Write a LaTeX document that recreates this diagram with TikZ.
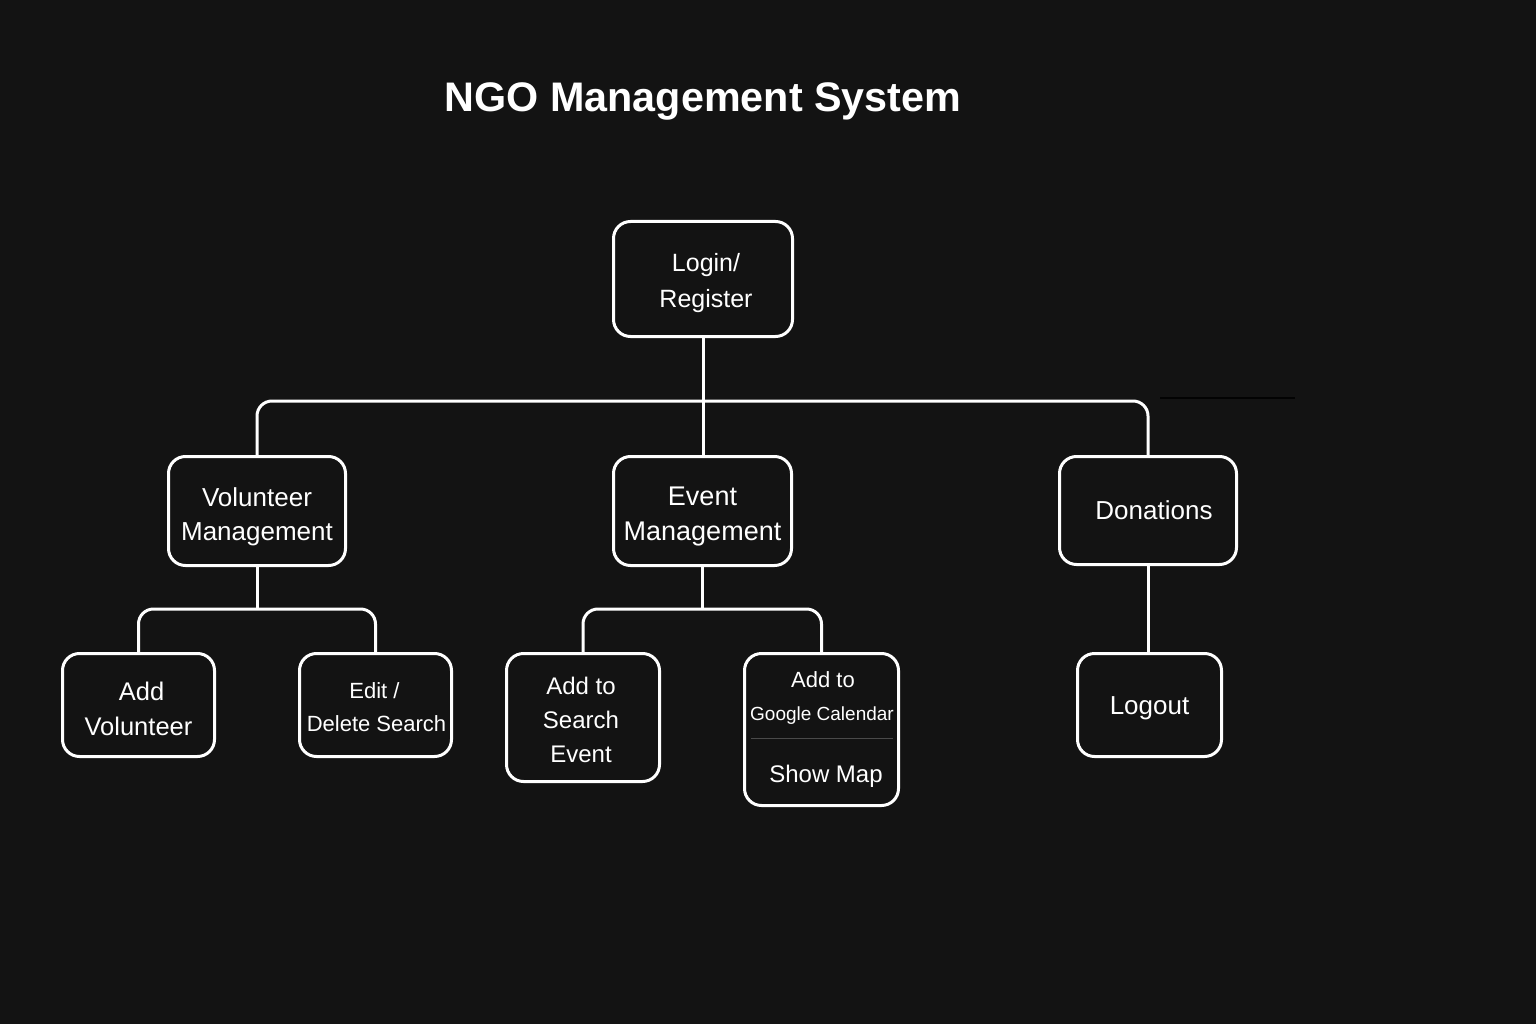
\documentclass[tikz,border=0pt]{standalone}
\usepackage{fontspec}
\setmainfont{Liberation Sans}
\definecolor{bg}{HTML}{131313}
\definecolor{sepgray}{HTML}{4A4A4A}
\begin{document}
\begin{tikzpicture}[x=1pt,y=-1pt,
  box/.style={draw=white, line width=3pt, rounded corners=17pt, fill=bg, inner sep=0pt},
  txt/.style={text=white, align=center, inner sep=0pt},
  link/.style={draw=white, line width=3pt, rounded corners=15pt},
  lbl/.style={text=white, inner sep=0pt, anchor=base},
  fs/.style={font=\fontsize{#1}{#1}\selectfont}]
\fill[bg] (0,0) rectangle (1536,1024);
\useasboundingbox (0,0) rectangle (1536,1024);

\node[lbl, font=\fontsize{41.3}{41}\selectfont\bfseries] (title) at (703,112) {NGO Management System};

% boxes
\node[box, minimum width=179, minimum height=115] (login) at (703,279) {};
\node[box, minimum width=177, minimum height=109] (vol) at (257,511) {};
\node[box, minimum width=178, minimum height=109] (event) at (702.5,511) {};
\node[box, minimum width=177, minimum height=108] (don) at (1148,510.5) {};
\node[box, minimum width=152, minimum height=103] (addvol) at (138.5,705) {};
\node[box, minimum width=152, minimum height=103] (edit) at (375.5,705) {};
\node[box, minimum width=153, minimum height=128] (addsearch) at (583,717.5) {};
\node[box, minimum width=154, minimum height=152] (gcal) at (821.5,729.5) {};
\node[box, minimum width=144, minimum height=103] (logout) at (1149.5,705) {};

% box texts
\node[txt, font=\fontsize{25}{36}\selectfont] (logint) at ([xshift=3pt,yshift=-4.5pt]login.center) {Login/\\Register};
\node[txt, font=\fontsize{26}{34}\selectfont] (volt) at ([yshift=-6pt]vol.center) {Volunteer\\Management};
\node[txt, font=\fontsize{27}{35}\selectfont] (eventt) at ([yshift=-5.5pt]event.center) {Event\\Management};
\node[txt, font=\fontsize{26}{34}\selectfont] (dont) at ([xshift=6pt]don.center) {Donations};
\node[txt, font=\fontsize{25.5}{35}\selectfont] (addvolt) at ([yshift=-4pt]addvol.center) {\hspace*{6pt}Add\\Volunteer};
\node[txt, font=\fontsize{22}{33}\selectfont] (editt) at ([xshift=1pt,yshift=-2pt]edit.center) {\hspace*{-4pt}Edit /\\Delete Search};
\node[txt, font=\fontsize{24}{34}\selectfont] (addsearcht) at ([xshift=-2pt,yshift=-2pt]addsearch.center) {Add to\\Search\\Event};
\node[txt, font=\fontsize{26}{34}\selectfont] (logoutt) at ([yshift=-3pt]logout.center) {Logout};

% texts inside the calendar box
\node[lbl, fs=22] (gcal1) at (823,687) {Add to};
\node[lbl, fs=19] (gcal2) at (822,720) {Google Calendar};
\node[lbl, fs=24] (gcal3) at (826,782) {Show Map};
\coordinate (sepL) at (751,738);
\coordinate (sepR) at (893,738);
\draw[sepgray, line width=1pt] (sepL) -- (sepR);

% connectors
\coordinate (bus) at (703,401);
\coordinate (vbus) at (258,609);
\coordinate (ebus) at (703,609);
\draw[link] (vol.north) -- (vol.north |- bus) -- (don.north |- bus) -- (don.north);
\draw[link] (login.south) -- (login.south |- event.north);
\draw[link] (vol.south) -- (vol.south |- vbus);
\draw[link] (addvol.north) -- (addvol.north |- vbus) -- (edit.north |- vbus) -- (edit.north);
\draw[link] (event.south) -- (event.south |- ebus);
\draw[link] (addsearch.north) -- (addsearch.north |- ebus) -- (gcal.north |- ebus) -- (gcal.north);
\draw[link] (don.south) -- (don.south |- logout.north);

% faint dark stroke at the right of the bus
\coordinate (faintL) at (1160,398);
\coordinate (faintR) at (1295,398);
\draw[black, line width=1.5pt, opacity=0.8] (faintL) -- (faintR);
\end{tikzpicture}
\end{document}
